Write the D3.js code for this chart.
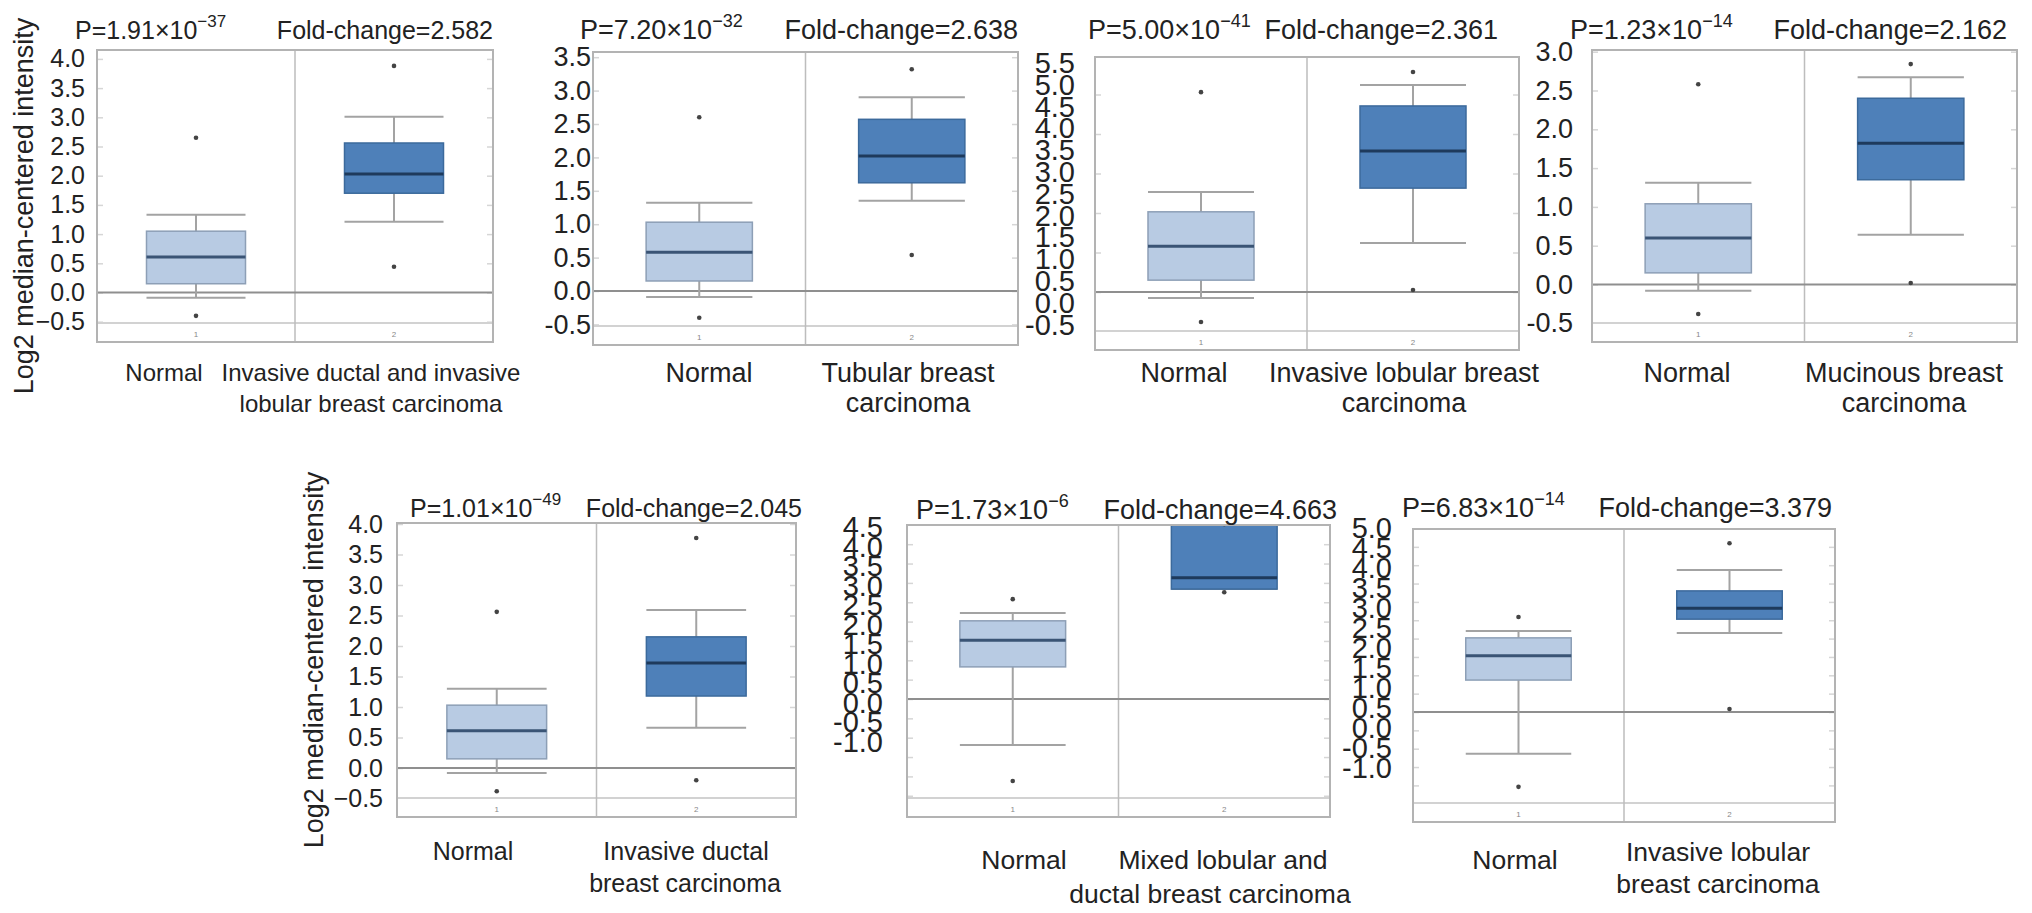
<!DOCTYPE html>
<html>
<head>
<meta charset="utf-8">
<script src="https://cdnjs.cloudflare.com/ajax/libs/d3/7.8.5/d3.min.js"></script>
<style>
  body { margin: 0; background: #fff; }
  svg text { font-family: "Liberation Sans", Arial, Helvetica, sans-serif; fill: #222; }
</style>
</head>
<body>
<svg id="chart"></svg>
<script>
// ---- data ----
const pMantissa = ["1.91", "7.20", "5.00", "1.23", "1.01", "1.73", "6.83"];
const pExponent = ["\u221237", "\u221232", "\u221241", "\u221214", "\u221249", "\u22126", "\u221214"];
const foldChange = ["2.582", "2.638", "2.361", "2.162", "2.045", "4.663", "3.379"];
const normalLabel = "Normal";
const tumorLabels = [
    ["Invasive ductal and invasive", "lobular breast carcinoma"],
    ["Tubular breast", "carcinoma"],
    ["Invasive lobular breast", "carcinoma"],
    ["Mucinous breast", "carcinoma"],
    ["Invasive ductal", "breast carcinoma"],
    ["Mixed lobular and", "ductal breast carcinoma"],
    ["Invasive lobular", "breast carcinoma"]
];
// [lower whisker, q1, median, q3, upper whisker]
const normalBoxes = [
    [-0.09, 0.15, 0.61, 1.05, 1.33],
    [-0.09, 0.15, 0.58, 1.03, 1.32],
    [-0.15, 0.30, 1.16, 2.03, 2.53],
    [-0.08, 0.15, 0.60, 1.04, 1.31],
    [-0.08, 0.15, 0.61, 1.03, 1.30],
    [-1.19, 0.83, 1.52, 2.02, 2.22],
    [-1.14, 0.87, 1.53, 2.02, 2.21]
];
const tumorBoxes = [
    [1.21, 1.70, 2.03, 2.56, 3.01],
    [1.35, 1.62, 2.02, 2.57, 2.90],
    [1.24, 2.63, 3.57, 4.71, 5.24],
    [0.64, 1.35, 1.82, 2.40, 2.67],
    [0.66, 1.18, 1.72, 2.15, 2.59],
    [2.84, 2.84, 3.13, 4.90, 5.60],
    [2.15, 2.53, 2.83, 3.30, 3.87]
];
const normalOutliers = [
    [2.65, -0.40], [2.60, -0.40], [5.06, -0.76], [2.58, -0.38],
    [2.56, -0.38], [2.58, -2.12], [2.59, -2.04]
];
const tumorOutliers = [
    [3.88, 0.44], [3.32, 0.54], [5.57, 0.05], [2.84, 0.02],
    [3.77, -0.20], [2.76, 4.52], [4.60, 0.08]
];
const yTickLabels = [
    ["4.0", "3.5", "3.0", "2.5", "2.0", "1.5", "1.0", "0.5", "0.0", "\u22120.5"],
    ["3.5", "3.0", "2.5", "2.0", "1.5", "1.0", "0.5", "0.0", "-0.5"],
    ["5.5", "5.0", "4.5", "4.0", "3.5", "3.0", "2.5", "2.0", "1.5", "1.0", "0.5", "0.0", "-0.5"],
    ["3.0", "2.5", "2.0", "1.5", "1.0", "0.5", "0.0", "-0.5"],
    ["4.0", "3.5", "3.0", "2.5", "2.0", "1.5", "1.0", "0.5", "0.0", "\u22120.5"],
    ["4.5", "4.0", "3.5", "3.0", "2.5", "2.0", "1.5", "1.0", "0.5", "0.0", "-0.5", "-1.0"],
    ["5.0", "4.5", "4.0", "3.5", "3.0", "2.5", "2.0", "1.5", "1.0", "0.5", "0.0", "-0.5", "-1.0"]
];
const yTitle = "Log2 median-centered intensity";

// ---- panel placement (pixels) ----
const layout = [
    { x0: 97, x1: 493, top: 50, bottom: 342, zero: 292.5, ppu: 58.4, faint: 0.5,
      labelRight: 85, tickFont: 25, pX: 75, foldX: 493, titleY: 39, titleFont: 25,
      normX: 164, tumX: [371, 371], labY: [372, 403], labFont: 24, yTitle: [33, 206] },
    { x0: 593, x1: 1018, top: 52, bottom: 345, zero: 291, ppu: 66.8, faint: 0.5,
      labelRight: 591, tickFont: 27, pX: 580, foldX: 1018, titleY: 39, titleFont: 27,
      normX: 709, tumX: [908, 908], labY: [372, 402], labFont: 27 },
    { x0: 1095, x1: 1519, top: 57, bottom: 350, zero: 292, ppu: 39.5, faint: 1,
      labelZero: 303, labelPpu: 43.6,
      labelRight: 1075, tickFont: 29, pX: 1088, foldX: 1498, titleY: 39, titleFont: 27,
      normX: 1184, tumX: [1404, 1404], labY: [372, 402], labFont: 27 },
    { x0: 1592, x1: 2017, top: 50, bottom: 342, zero: 284.5, ppu: 77.6, faint: 0.5,
      labelRight: 1573, tickFont: 27, pX: 1570, foldX: 2007, titleY: 39, titleFont: 27,
      normX: 1687, tumX: [1904, 1904], labY: [372, 402], labFont: 27 },
    { x0: 397, x1: 796, top: 523, bottom: 817, zero: 768, ppu: 61, faint: 0.5,
      labelRight: 383, tickFont: 25, pX: 410, foldX: 802, titleY: 517, titleFont: 25,
      normX: 473, tumX: [686, 685], labY: [851, 883], normY: 851, labFont: 25, yTitle: [323, 660] },
    { x0: 907, x1: 1330, top: 525, bottom: 817, zero: 699, ppu: 38.7, faint: 0.5,
      labelZero: 703, labelPpu: 39,
      labelRight: 883, tickFont: 29, pX: 916, foldX: 1337, titleY: 519, titleFont: 27,
      normX: 1024, tumX: [1223, 1210], labY: [859, 893], labFont: 26.5 },
    { x0: 1413, x1: 1835, top: 529, bottom: 822, zero: 712, ppu: 36.7, faint: 0.5,
      labelZero: 728, labelPpu: 40,
      labelRight: 1392, tickFont: 29, pX: 1402, foldX: 1832, titleY: 517, titleFont: 27,
      normX: 1515, normY: 859, tumX: [1718, 1718], labY: [851, 883], labFont: 26.5 }
];

const svg = d3.select("#chart").attr("width", 2032).attr("height", 913);

layout.forEach((L, i) => {
    const y = d3.scaleLinear().domain([0, 1]).range([L.zero, L.zero - L.ppu]);
    const labelY = d3.scaleLinear().domain([0, 1])
        .range([L.labelZero || L.zero, (L.labelZero || L.zero) - (L.labelPpu || L.ppu)]);
    const x = d3.scaleBand().domain(["1", "2"]).range([L.x0, L.x1]);
    const bw = x.bandwidth() * 0.5;

    const g = svg.append("g");
    g.append("clipPath").attr("id", "clip" + i)
        .append("rect").attr("x", L.x0).attr("y", L.top)
        .attr("width", L.x1 - L.x0).attr("height", L.bottom - L.top);

    const plot = g.append("g").attr("clip-path", `url(#clip${i})`);

    // faint ticks along the inside of the frame
    const faintVals = d3.range(Math.ceil(y.invert(L.bottom - 19) / L.faint) * L.faint, y.invert(L.top) + 0.001, L.faint);
    [[d3.axisRight(y), L.x0], [d3.axisLeft(y), L.x1]].forEach(([ax, px]) => {
        const a = plot.append("g").attr("transform", `translate(${px},0)`)
            .call(ax.tickValues(faintVals).tickSize(6).tickFormat(""));
        a.select(".domain").remove();
        a.selectAll("line").attr("stroke", "#d6d6d6").attr("stroke-width", 1.5);
    });

    // strip for group numbers
    plot.append("line").attr("x1", L.x0).attr("x2", L.x1)
        .attr("y1", L.bottom - 19).attr("y2", L.bottom - 19)
        .attr("stroke", "#d2d2d2").attr("stroke-width", 2);
    // divider
    plot.append("line").attr("x1", x("2")).attr("x2", x("2"))
        .attr("y1", L.top).attr("y2", L.bottom)
        .attr("stroke", "#bdbdbd").attr("stroke-width", 1.5);
    // zero line
    plot.append("line").attr("x1", L.x0).attr("x2", L.x1)
        .attr("y1", y(0)).attr("y2", y(0))
        .attr("stroke", "#8f8f8f").attr("stroke-width", 2);

    const groups = [
        { key: "1", s: normalBoxes[i], out: normalOutliers[i], fill: "#b8cbe3", stroke: "#8d9fb6", med: "#3a5475" },
        { key: "2", s: tumorBoxes[i], out: tumorOutliers[i], fill: "#4e80b9", stroke: "#3c6a9c", med: "#1e3a5c" }
    ];
    groups.forEach(d => {
        const cx = x(d.key) + x.bandwidth() / 2;
        const [lo, q1, med, q3, hi] = d.s;
        plot.append("line").attr("x1", cx).attr("x2", cx).attr("y1", y(lo)).attr("y2", y(hi))
            .attr("stroke", "#a3a3a3").attr("stroke-width", 2);
        [lo, hi].forEach(v => plot.append("line")
            .attr("x1", cx - bw / 2).attr("x2", cx + bw / 2).attr("y1", y(v)).attr("y2", y(v))
            .attr("stroke", "#a3a3a3").attr("stroke-width", 2));
        plot.append("rect").attr("x", cx - bw / 2).attr("width", bw)
            .attr("y", y(q3)).attr("height", y(q1) - y(q3))
            .attr("fill", d.fill).attr("stroke", d.stroke).attr("stroke-width", 1.5);
        plot.append("line").attr("x1", cx - bw / 2).attr("x2", cx + bw / 2)
            .attr("y1", y(med)).attr("y2", y(med))
            .attr("stroke", d.med).attr("stroke-width", 3);
        plot.selectAll(null).data(d.out).enter().append("circle")
            .attr("cx", cx).attr("cy", v => y(v)).attr("r", 2.3).attr("fill", "#444");
        g.append("text").attr("x", cx).attr("y", L.bottom - 5)
            .attr("text-anchor", "middle").style("font-size", "8px").style("fill", "#888")
            .text(d.key);
    });

    // frame
    g.append("rect").attr("x", L.x0).attr("y", L.top)
        .attr("width", L.x1 - L.x0).attr("height", L.bottom - L.top)
        .attr("fill", "none").attr("stroke", "#b3b3b3").attr("stroke-width", 2);

    // y tick labels
    const labs = yTickLabels[i];
    const vals = labs.map(s => +s.replace("\u2212", "-"));
    const ya = g.append("g").attr("transform", `translate(${L.labelRight},0)`)
        .call(d3.axisLeft(labelY).tickValues(vals).tickFormat((d, k) => labs[k]).tickSize(0).tickPadding(0));
    ya.select(".domain").remove();
    ya.attr("font-size", L.tickFont);

    // title
    const t = g.append("text").attr("x", L.pX).attr("y", L.titleY).style("font-size", L.titleFont + "px");
    t.append("tspan").text(`P=${pMantissa[i]}\u00d710`);
    t.append("tspan").attr("dy", -12).style("font-size", Math.round(L.titleFont * 0.68) + "px").text(pExponent[i]);
    g.append("text").attr("x", L.foldX).attr("y", L.titleY).attr("text-anchor", "end")
        .style("font-size", L.titleFont + "px").text(`Fold-change=${foldChange[i]}`);

    // category labels
    const capOff = L.labFont * 0.36;
    g.append("text").attr("x", L.normX).attr("y", (L.normY || L.labY[0]) + capOff)
        .attr("text-anchor", "middle").style("font-size", L.labFont + "px").text(normalLabel);
    tumorLabels[i].forEach((line, k) => {
        g.append("text").attr("x", L.tumX[k]).attr("y", L.labY[k] + capOff)
            .attr("text-anchor", "middle").style("font-size", L.labFont + "px").text(line);
    });

    // y axis title
    if (L.yTitle) {
        g.append("text").attr("transform", `translate(${L.yTitle[0]},${L.yTitle[1]}) rotate(-90)`)
            .attr("text-anchor", "middle").style("font-size", "27px").text(yTitle);
    }
});
</script>
</body>
</html>
